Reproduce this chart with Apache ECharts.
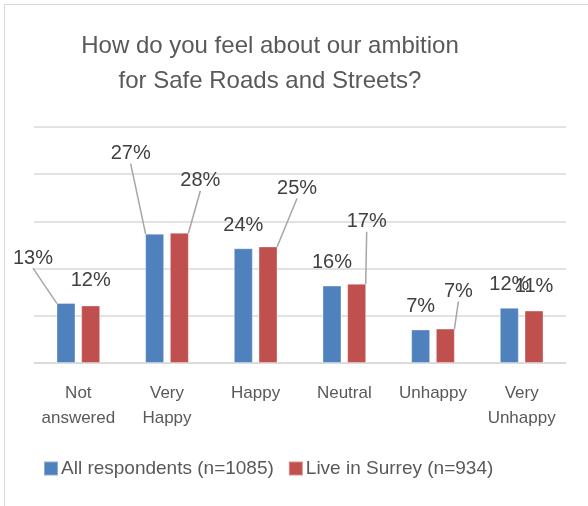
<!DOCTYPE html>
<html><head><meta charset="utf-8">
<script src="https://cdn.jsdelivr.net/npm/echarts@6/dist/echarts.min.js"></script>
<style>
html,body{margin:0;padding:0;background:#fff;overflow:hidden}
#frame{position:absolute;left:4px;top:4px;width:620px;height:620px;border:1.5px solid #d9d9d9;box-sizing:border-box}
#c{position:absolute;left:0;top:0;width:588px;height:506px}
</style></head>
<body><div id="frame"></div><div id="c"></div>
<script>
const categories = ['Not\nanswered', 'Very\nHappy', 'Happy', 'Neutral', 'Unhappy', 'Very\nUnhappy'];
const allRespondents = [12.7, 27.4, 24.3, 16.4, 7.1, 11.7];
const liveInSurrey = [12.2, 27.6, 24.7, 16.8, 7.3, 11.1];
const seriesNames = ['All respondents (n=1085)', 'Live in Surrey (n=934)'];
const yTicks = [0, 10, 20, 30, 40, 50];

// label displacement (style) per bar: [dx, dy, showLine]
const allOffsets = [[-33, -22, true], [-24, -57, true], [0, 0, false], [0, 0, false], [0, 0, false], [0, 0, false]];
const surreyOffsets = [[0, -2, false], [21, -29, true], [29, -35, true], [10, -39, true], [13, -14, true], [0, -1, false]];

const chart = echarts.init(document.getElementById('c'));
const font = 'Liberation Sans, Arial, sans-serif';
function mkData(vals, offs) {
  return vals.map((v, i) => ({ value: v, labelLine: { show: offs[i][2] } }));
}
function mkSeries(name, vals, offs, color) {
  return {
    name: name, type: 'bar', data: mkData(vals, offs),
    barWidth: 19, barGap: '30%',
    itemStyle: { color: color, borderColor: 'rgba(255,255,255,0.35)', borderWidth: 1 },
    label: { show: true, position: 'top', distance: 13, color: '#404040', fontSize: 20, fontFamily: font,
      formatter: p => Math.round(p.value) + '%' },
    labelLine: { show: true, lineStyle: { color: '#a6a6a6', width: 1.5 } },
    labelLayout: p => ({ dx: offs[p.dataIndex][0], dy: offs[p.dataIndex][1] }),
    animation: false
  };
}
chart.setOption({
  animation: false,
  title: {
    text: 'How do you feel about our ambition\nfor Safe Roads and Streets?',
    left: 265, top: 24, textAlign: 'center',
    textStyle: { color: '#595959', fontSize: 24, fontWeight: 'normal', fontFamily: font, lineHeight: 35 }
  },
  legend: {
    bottom: 23, left: 38, itemWidth: 14, itemHeight: 14, itemGap: 14,
    icon: 'rect',
    textStyle: { color: '#595959', fontSize: 19, fontFamily: font, padding: [0, 0, 0, -2] },
    data: seriesNames
  },
  grid: { left: 34, right: 22, top: 127, bottom: 143, containLabel: false },
  xAxis: {
    type: 'category', data: categories,
    axisLine: { lineStyle: { color: '#d9d9d9', width: 1.5 } },
    axisTick: { show: false },
    axisLabel: { color: '#595959', fontSize: 17, fontFamily: font, lineHeight: 25, margin: 18, interval: 0 }
  },
  yAxis: {
    type: 'value', min: yTicks[0], max: yTicks[yTicks.length - 1], interval: 10,
    axisLabel: { show: false }, axisLine: { show: false }, axisTick: { show: false },
    splitLine: { lineStyle: { color: '#d9d9d9', width: 1.5 } }
  },
  series: [
    mkSeries(seriesNames[0], allRespondents, allOffsets, '#4F81BD'),
    mkSeries(seriesNames[1], liveInSurrey, surreyOffsets, '#C0504D')
  ]
});
</script></body></html>
